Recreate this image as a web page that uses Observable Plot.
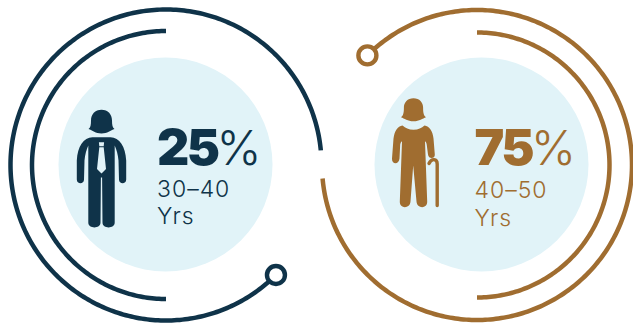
<!DOCTYPE html>
<html>
<head>
<meta charset="utf-8">
<script src="https://cdn.jsdelivr.net/npm/d3@7"></script>
<script src="https://cdn.jsdelivr.net/npm/@observablehq/plot@0.6"></script>
<style>
  html, body { margin: 0; padding: 0; background: #fff; }
  svg { display: block; }
  g[font-size="23"] { letter-spacing: 1px; }
  g[font-size="50"] { letter-spacing: -2.5px; }
</style>
</head>
<body>
<div id="chart"></div>
<script>
// Values shown in the two panels
const shares = [25, 75];
const ageBands = ["30–40", "40–50"];
const unitLabel = "Yrs";

// Colours
const navy = "#0f3349";
const tan = "#a06d30";
const disc = "#e1f3f8";

// Panel layout in page units; angles are degrees clockwise from east
const panels = [
  {
    color: navy, cx: 165.5, cy: 164.5, discX: 165, discY: 164,
    outerR: 155.5, outerFrom: -5.4, outerTo: -315,
    innerR: 134, innerFrom: -90, innerTo: -270,
    knobAngle: 45,
    iconX: 101, iconY: 168,
    textX: 156.5, pctX: 216, bigY: 164, bandY: 196.5, unitY: 223.5
  },
  {
    color: tan, cx: 476.5, cy: 164.5, discX: 481, discY: 164,
    outerR: 155, outerFrom: 175, outerTo: -135,
    innerR: 132.5, innerFrom: -90, innerTo: 90,
    knobAngle: -135,
    iconX: 413, iconY: 150,
    textX: 474, pctX: 530.5, bigY: 164.5, bandY: 197, unitY: 225
  }
];

// Sampled points along a circular arc
function arcPoints(cx, cy, r, from, to) {
  const n = Math.ceil(Math.abs(to - from));
  return d3.range(n + 1).map(i => {
    const a = (from + (to - from) * i / n) * Math.PI / 180;
    return {x: cx + r * Math.cos(a), y: cy + r * Math.sin(a)};
  });
}

// Figure in a suit, origin at the waist
const suitFigure = {draw(c) {
  c.moveTo(0, -58.7);
  c.bezierCurveTo(6.5, -58.7, 10.5, -54, 10.5, -48);
  c.bezierCurveTo(10.5, -43.5, 11, -41, 13, -39.5);
  c.bezierCurveTo(9, -38, 6, -35, 0, -35);
  c.bezierCurveTo(-6, -35, -9, -38, -13, -39.5);
  c.bezierCurveTo(-11, -41, -10.5, -43.5, -10.5, -48);
  c.bezierCurveTo(-10.5, -54, -6.5, -58.7, 0, -58.7);
  c.closePath();
  c.moveTo(-9, -31.3);
  c.lineTo(9, -31.3);
  c.bezierCurveTo(18, -31.3, 24, -22, 24.7, -8);
  c.lineTo(24.7, 11);
  c.bezierCurveTo(24.7, 16, 17.5, 16, 17.5, 11);
  c.lineTo(17, -8);
  c.bezierCurveTo(16.5, -14, 15, -19, 13.2, -23);
  c.lineTo(13.2, 54);
  c.bezierCurveTo(13.2, 60.5, 1, 60.5, 1, 54);
  c.lineTo(0.6, 9);
  c.lineTo(-0.6, 9);
  c.lineTo(-1, 54);
  c.bezierCurveTo(-1, 60.5, -13.2, 60.5, -13.2, 54);
  c.lineTo(-13.2, -23);
  c.bezierCurveTo(-15, -19, -16.5, -14, -17, -8);
  c.lineTo(-17.5, 11);
  c.bezierCurveTo(-17.5, 16, -24.7, 16, -24.7, 11);
  c.lineTo(-24.7, -8);
  c.bezierCurveTo(-24, -22, -18, -31.3, -9, -31.3);
  c.closePath();
}};

// Necktie cut out of the suit
const necktie = {draw(c) {
  c.moveTo(-2.6, -26.3);
  c.lineTo(2.6, -26.3);
  c.lineTo(2.2, -22.3);
  c.lineTo(-2.2, -22.3);
  c.closePath();
  c.moveTo(-2.2, -21.3);
  c.lineTo(2.2, -21.3);
  c.lineTo(4.5, 0.5);
  c.lineTo(0, 5);
  c.lineTo(-4.5, 0.5);
  c.closePath();
}};

// Elder figure, origin at the chest
const elderFigure = {draw(c) {
  c.moveTo(0, -52.3);
  c.bezierCurveTo(6, -52.3, 9.6, -48, 9.6, -43);
  c.bezierCurveTo(9.6, -38, 10, -35, 12.5, -33.3);
  c.bezierCurveTo(9, -32, 6, -29.3, 0, -29.3);
  c.bezierCurveTo(-6, -29.3, -9, -32, -12.5, -33.3);
  c.bezierCurveTo(-10, -35, -9.6, -38, -9.6, -43);
  c.bezierCurveTo(-9.6, -48, -6, -52.3, 0, -52.3);
  c.closePath();
  c.moveTo(0, -20.7);
  c.bezierCurveTo(5, -20.7, 8, -22.5, 11, -25);
  c.bezierCurveTo(16, -24, 19, -20, 20, -12);
  c.lineTo(21.3, 4);
  c.bezierCurveTo(21.7, 8.5, 15, 9, 14.5, 4);
  c.lineTo(13.2, -6);
  c.bezierCurveTo(13, -8, 12, -9.5, 11.5, -9);
  c.lineTo(13.7, 51);
  c.bezierCurveTo(14, 58.5, 3.4, 58.5, 3, 51);
  c.lineTo(-0.3, 15);
  c.lineTo(-3, 51);
  c.bezierCurveTo(-3.4, 58.5, -14, 58.5, -13.7, 51);
  c.lineTo(-11.5, -9);
  c.bezierCurveTo(-12, -9.5, -13, -8, -13.3, -6);
  c.lineTo(-14, 8);
  c.bezierCurveTo(-14.5, 14.5, -22, 14, -21.5, 8);
  c.lineTo(-20, -12);
  c.bezierCurveTo(-19, -20, -16, -24, -11, -25);
  c.bezierCurveTo(-8, -22.5, -5, -20.7, 0, -20.7);
  c.closePath();
}};

// Walking cane, drawn as a single stroke
const cane = {draw(c) {
  c.moveTo(23.7, 55);
  c.lineTo(23.7, 13.5);
  c.bezierCurveTo(23.7, 8, 18, 7.5, 15.5, 13);
}};

const marks = [];
panels.forEach((p, i) => {
  const color = p.color;
  const ring = {x: "x", y: "y", stroke: color, strokeLinecap: "butt", curve: "linear"};
  marks.push(
    Plot.dot([p], {x: "discX", y: "discY", r: 107, fill: disc}),
    Plot.line(arcPoints(p.cx, p.cy, p.outerR, p.outerFrom, p.outerTo), {...ring, strokeWidth: 4.5}),
    Plot.line(arcPoints(p.cx, p.cy, p.innerR, p.innerFrom, p.innerTo), {...ring, strokeWidth: 4.5})
  );
  const knob = arcPoints(p.cx, p.cy, p.outerR, p.knobAngle, p.knobAngle + 1)[0];
  marks.push(Plot.dot([knob], {x: "x", y: "y", r: 9, stroke: color, strokeWidth: 4.4, fill: "#fff"}));

  const big = {fontFamily: "Inter", fontWeight: 900, fontSize: 50, fill: color, textAnchor: "start", lineAnchor: "bottom"};
  const small = {fontFamily: "Inter", fontWeight: 300, fill: color, textAnchor: "start", lineAnchor: "bottom"};
  marks.push(
    Plot.text([String(shares[i])], {...big, text: d => d, x: () => p.textX, y: () => p.bigY}),
    Plot.text(["%"], {...small, fontWeight: 350, fontSize: 48, text: d => d, x: () => p.pctX, y: () => p.bigY}),
    Plot.text([ageBands[i]], {...small, fontSize: 23, text: d => d, x: () => p.textX, y: () => p.bandY}),
    Plot.text([unitLabel], {...small, fontSize: 23, text: d => d, x: () => p.textX, y: () => p.unitY})
  );
});

// People icons
const [a, b] = panels;
marks.push(
  Plot.dot([a], {x: "iconX", y: "iconY", r: 10, symbol: suitFigure, fill: navy}),
  Plot.dot([a], {x: "iconX", y: "iconY", r: 10, symbol: necktie, fill: disc}),
  Plot.dot([b], {x: "iconX", y: "iconY", r: 10, symbol: elderFigure, fill: tan}),
  Plot.dot([b], {x: "iconX", y: "iconY", r: 10, symbol: cane, fill: "none", stroke: tan, strokeWidth: 3.4, strokeLinecap: "round"})
);

const chart = Plot.plot({
  width: 633,
  height: 325,
  margin: 0,
  x: {domain: [0, 633], range: [0, 633], axis: null},
  y: {domain: [0, 325], range: [0, 325], axis: null},
  marks
});
document.getElementById("chart").append(chart);
</script>
</body>
</html>
